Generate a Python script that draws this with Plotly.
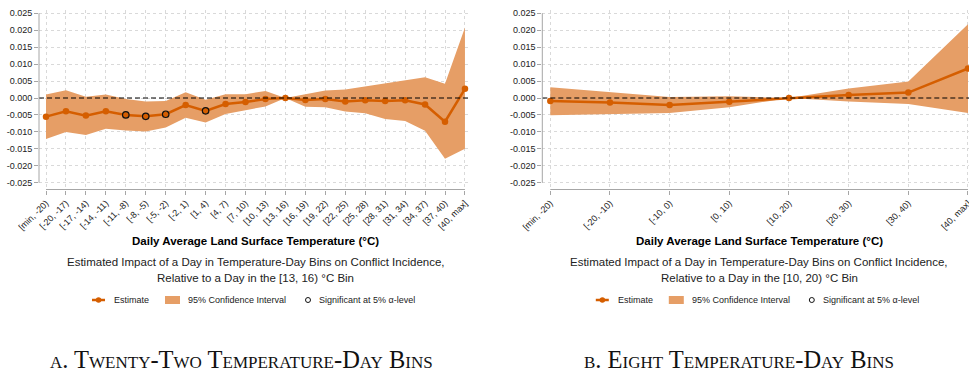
import plotly.graph_objects as go

W, H = 969, 373

# ---------------- data ----------------
cats_a = ["[min, -20)", "[-20, -17)", "[-17, -14)", "[-14, -11)", "[-11, -8)", "[-8, -5)",
          "[-5, -2)", "[-2, 1)", "[1, 4)", "[4, 7)", "[7, 10)", "[10, 13)", "[13, 16)",
          "[16, 19)", "[19, 22)", "[22, 25)", "[25, 28)", "[28, 31)", "[31, 34)",
          "[34, 37)", "[37, 40)", "[40, max]"]
est_a = [-0.0055, -0.0039, -0.0052, -0.0039, -0.0050, -0.0054, -0.0048, -0.0021, -0.0038,
         -0.0018, -0.0012, -0.0003, 0.0, -0.0006, -0.0003, -0.0010, -0.0007, -0.0009,
         -0.0007, -0.0019, -0.0070, 0.0027]
hi_a = [0.0010, 0.0023, 0.0004, 0.0010, -0.0003, -0.0010, -0.0009, 0.0017, -0.0005,
        0.0011, 0.0011, 0.0021, 0.0, 0.0012, 0.0022, 0.0025, 0.0034, 0.0044, 0.0054,
        0.0061, 0.0042, 0.0208]
lo_a = [-0.0121, -0.0100, -0.0109, -0.0091, -0.0096, -0.0099, -0.0087, -0.0058, -0.0072,
        -0.0047, -0.0036, -0.0025, 0.0, -0.0026, -0.0027, -0.0040, -0.0045, -0.0062,
        -0.0068, -0.0097, -0.0179, -0.0150]
sig_a = [False, False, False, False, True, True, True, False, True, False, False, False,
         False, False, False, False, False, False, False, False, False, False]

cats_b = ["[min, -20)", "[-20, -10)", "[-10, 0)", "[0, 10)", "[10, 20)", "[20, 30)",
          "[30, 40)", "[40, max]"]
est_b = [-0.0009, -0.0013, -0.0021, -0.0011, 0.0, 0.0009, 0.0016, 0.0087]
hi_b = [0.0032, 0.0018, 0.0003, 0.0005, 0.0, 0.0028, 0.0049, 0.0218]
lo_b = [-0.0051, -0.0047, -0.0044, -0.0027, 0.0, -0.0010, -0.0018, -0.0044]
sig_b = [False] * 8

y_ticks = [0.025, 0.020, 0.015, 0.010, 0.005, 0.0, -0.005, -0.010, -0.015, -0.020, -0.025]
y_ticklabels = ["0.025", "0.020", "0.015", "0.010", "0.005", "0.000", "-0.005", "-0.010",
                "-0.015", "-0.020", "-0.025"]

x_title = "Daily Average Land Surface Temperature (°C)"
sub1 = "Estimated Impact of a Day in Temperature-Day Bins on Conflict Incidence,"
sub2_a = "Relative to a Day in the [13, 16) °C Bin"
sub2_b = "Relative to a Day in the [10, 20) °C Bin"
leg_labels = ["Estimate", "95% Confidence Interval", "Significant at 5% α-level"]
captions = ["a. Twenty-Two Temperature-Day Bins", "b. Eight Temperature-Day Bins"]

# ---------------- style ----------------
LINE = "#D55E00"
FILL = "#E69E66"
GRID = "#d9d9d9"
AXIS = "#a6a6a6"
TXT = "#222222"
SANS = "Liberation Sans, Arial, sans-serif"
SERIF = "Liberation Serif, Times New Roman, serif"


def px(x):
    return x / W


def py(y):
    return 1 - y / H


fig = go.Figure()


def add_panel(cats, est, hi, lo, sig, xs, ys):
    fig.add_trace(go.Scatter(x=cats, y=lo, mode="lines", line=dict(width=0, color=FILL),
                             xaxis=xs, yaxis=ys, showlegend=False, hoverinfo="skip"))
    fig.add_trace(go.Scatter(x=cats, y=hi, mode="lines", line=dict(width=0, color=FILL),
                             fill="tonexty", fillcolor=FILL, xaxis=xs, yaxis=ys,
                             showlegend=False, hoverinfo="skip"))
    fig.add_trace(go.Scatter(x=cats, y=est, mode="lines+markers",
                             line=dict(width=2.5, color=LINE),
                             marker=dict(size=6.5, color=LINE),
                             xaxis=xs, yaxis=ys, showlegend=False, cliponaxis=False))
    sx = [c for c, s in zip(cats, sig) if s]
    sy = [v for v, s in zip(est, sig) if s]
    fig.add_trace(go.Scatter(x=sx, y=sy, mode="markers",
                             marker=dict(size=6.5, color="rgba(0,0,0,0)",
                                         line=dict(width=1.2, color="#111")),
                             xaxis=xs, yaxis=ys, showlegend=False))


add_panel(cats_a, est_a, hi_a, lo_a, sig_a, "x", "y")
add_panel(cats_b, est_b, hi_b, lo_b, sig_b, "x2", "y2")

y_range = [-0.027007, 0.025974]
ydom = [py(189.5), py(10)]

common_x = dict(type="category", showgrid=True, gridcolor=GRID, griddash="dot",
                gridwidth=1, showline=False, zeroline=False, ticks="outside",
                ticklen=4, tickcolor=AXIS, tickangle=-45, automargin=False,
                tickfont=dict(family=SANS, size=9, color=TXT))
common_y = dict(range=y_range, domain=ydom, tickvals=y_ticks, ticktext=y_ticklabels,
                showgrid=True, gridcolor=GRID, griddash="dot", gridwidth=1,
                showline=False, zeroline=False, ticks="outside", ticklen=4,
                automargin=False, tickcolor=AXIS,
                tickfont=dict(family=SANS, size=9, color=TXT))

fig.update_layout(
    width=W, height=H, margin=dict(l=0, r=0, t=0, b=0, pad=0, autoexpand=False),
    paper_bgcolor="white", plot_bgcolor="white", showlegend=False,
    xaxis=dict(common_x, domain=[px(39), px(471)], range=[-0.351, 21.303], anchor="y"),
    yaxis=dict(common_y, anchor="x"),
    xaxis2=dict(common_x, domain=[px(542.3), 1.0], range=[-0.134, 7.017], anchor="y2"),
    yaxis2=dict(common_y, anchor="x2"),
)

shapes = []
for xr, yr, n in (("x", "y", len(cats_a)), ("x2", "y2", len(cats_b))):
    shapes.append(dict(type="line", xref=xr + " domain", yref=yr, x0=0, x1=1, y0=0, y1=0,
                       line=dict(color="black", width=1.2, dash="5px,3px")))
    shapes.append(dict(type="line", xref=xr + " domain", yref=yr, x0=0, x1=0,
                       y0=y_ticks[-1], y1=y_ticks[0], line=dict(color=AXIS, width=1)))
    shapes.append(dict(type="line", xref=xr, yref=yr + " domain", x0=0, x1=n - 1,
                       y0=0, y1=0, line=dict(color=AXIS, width=1)))

annotations = []
for off, cx, sub2 in ((0, 255.5, sub2_a), (503.8, 759, sub2_b)):
    annotations.append(dict(text="<b>" + x_title + "</b>", x=px(cx), y=py(241),
                            xref="paper", yref="paper", showarrow=False,
                            xanchor="center", yanchor="middle",
                            font=dict(family=SANS, size=11.5, color="black")))
    annotations.append(dict(text=sub1, x=px(cx), y=py(262), xref="paper", yref="paper",
                            showarrow=False, xanchor="center", yanchor="middle",
                            font=dict(family=SANS, size=11.5, color=TXT)))
    annotations.append(dict(text=sub2, x=px(cx), y=py(277.5), xref="paper", yref="paper",
                            showarrow=False, xanchor="center", yanchor="middle",
                            font=dict(family=SANS, size=11.5, color=TXT)))
    ly = 300
    shapes.append(dict(type="line", xref="paper", yref="paper", x0=px(92 + off),
                       x1=px(105 + off), y0=py(ly), y1=py(ly),
                       line=dict(color=LINE, width=2.5)))
    shapes.append(dict(type="circle", xref="paper", yref="paper", x0=px(95.8 + off),
                       x1=px(101.3 + off), y0=py(ly + 2.75), y1=py(ly - 2.75),
                       fillcolor=LINE, line=dict(width=0)))
    shapes.append(dict(type="rect", xref="paper", yref="paper", x0=px(165 + off),
                       x1=px(180 + off), y0=py(304), y1=py(296),
                       fillcolor=FILL, line=dict(width=0)))
    shapes.append(dict(type="circle", xref="paper", yref="paper", x0=px(305.5 + off),
                       x1=px(310.5 + off), y0=py(ly + 2.5), y1=py(ly - 2.5),
                       fillcolor="white", line=dict(color="#111", width=1)))
    for tx, lab in zip((112, 186, 317), leg_labels):
        annotations.append(dict(text=lab, x=px(tx + off), y=py(ly), xref="paper",
                                yref="paper", showarrow=False, xanchor="left",
                                yanchor="middle",
                                font=dict(family=SANS, size=9, color=TXT)))

for cx, cap in zip((241, 739), captions):
    annotations.append(dict(text=cap, x=px(cx), y=py(359), xref="paper", yref="paper",
                            showarrow=False, xanchor="center", yanchor="middle",
                            font=dict(family=SERIF, size=24.5, color="#111",
                                      variant="small-caps")))

fig.update_layout(shapes=shapes, annotations=annotations)
fig.write_html("out.html")
